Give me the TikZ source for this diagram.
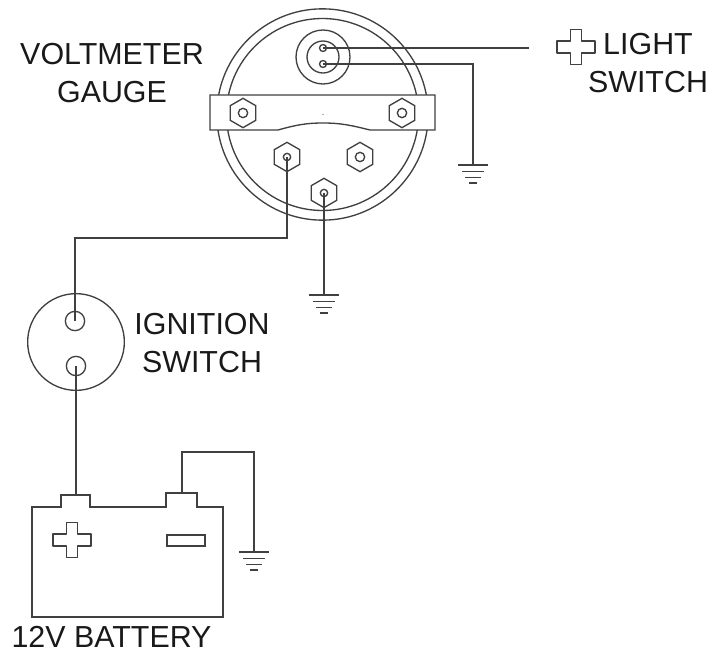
\documentclass[tikz,border=0pt]{standalone}
\usepackage{fontspec}
\setmainfont{Liberation Sans}
\usetikzlibrary{shapes.geometric}

\tikzset{
    wire/.style={line width=1pt, draw=black!75},
    label/.style={font=\fontsize{22.8}{28.5}\selectfont, align=center, inner sep=0pt, text=black!90},
    ring/.style={circle, draw=black!75, line width=1pt, inner sep=0pt},
    nut/.style={regular polygon, regular polygon sides=6, shape border rotate=30, draw=black!75,
        line width=1pt, inner sep=0pt, minimum size=22pt},
    ground/.pic={
        \draw[wire] (-15,0) -- (15,0);
        \draw[wire] (-11,6.5) -- (11,6.5);
        \draw[wire] (-8,12.5) -- (8,12.5);
        \draw[wire] (-4,18) -- (4,18);
    },
    plus/.pic={
        \draw[wire, line join=round] (-5.5,-17.5) -- (5.5,-17.5) -- (5.5,-6) -- (19,-6) -- (19,6) -- (5.5,6)
            -- (5.5,17.5) -- (-5.5,17.5) -- (-5.5,6) -- (-19,6) -- (-19,-6) -- (-5.5,-6) -- cycle;
    }
}

\begin{document}
\begin{tikzpicture}[x=0.75pt, y=-0.75pt]
    \useasboundingbox (0,0) rectangle (713,652);

    % gauge body
    \node[ring, minimum size=158.5pt] (gauge) at (322.5,114.5) {};
    \node[ring, minimum size=144pt] (gaugein) at (322.5,114.5) {};
    \node[ring, minimum size=40.5pt] (lamp) at (323,57) {};
    \node[ring, minimum size=24pt] (lampin) at (323,57) {};
    \node[ring, minimum size=5.2pt] (pin1) at (323,48) {};
    \node[ring, minimum size=5.2pt] (pin2) at (323,64) {};

    % strap over the body
    \draw[wire, fill=white] (210,95) -- (435,95) -- (435,130) -- (370,130)
        .. controls (350,125) and (340,123) .. (323,123)
        .. controls (306,123) and (296,125) .. (278,130) -- (210,130) -- cycle;
    \node[circle, fill=black!35, inner sep=0pt, minimum size=1.2pt] (speck) at (323,114.5) {};

    % nuts
    \foreach \name/\px/\py in {a/243/113, b/402/113, c/287/157, d/360/157, e/324/193} {
        \node[nut] (nut\name) at (\px,\py) {};
    }
    \node[ring, minimum size=7pt] (holea) at (243,113) {};
    \node[ring, minimum size=7pt] (holeb) at (402,113) {};
    \node[ring, minimum size=5.5pt] (holec) at (287,157) {};
    \node[ring, minimum size=7pt] (holed) at (360,157) {};
    \node[ring, minimum size=5.5pt] (holee) at (324,193) {};

    % ignition switch
    \node[ring, minimum size=72.5pt] (ignition) at (76,342) {};
    \node[ring, minimum size=14.5pt] (ign1) at (75,321) {};
    \node[ring, minimum size=14.5pt] (ign2) at (76,366) {};

    % battery
    \draw[wire] (32,507) -- (61,507) -- (61,495) -- (90,495) -- (90,507) -- (166,507) -- (166,493)
        -- (197,493) -- (197,507) -- (223,507) -- (223,617) -- (32,617) -- cycle;
    \coordinate (pos) at (75,495);
    \coordinate (neg) at (182,493);
    \pic at (72,540) {plus};
    \draw[wire] (167,535) rectangle (205,546);

    % grounds
    \coordinate (gnd1) at (473,165);
    \coordinate (gnd2) at (323.5,295);
    \coordinate (gnd3) at (254,552);
    \pic at (gnd1) {ground};
    \pic at (gnd2) {ground};
    \pic at (gnd3) {ground};

    % wires
    \coordinate (lightend) at (529,48);
    \draw[wire] (pin1.center) -- (lightend);
    \draw[wire] (pin2.center) -| (gnd1);
    \draw[wire] (holee.center) -- (holee.center |- gnd2);
    \coordinate (bend1) at (75,238);
    \draw[wire] (holec.center) |- (bend1) -- (ign1.center);
    \draw[wire] (ign2.center) -- (ign2.center |- pos);
    \coordinate (bend2) at (182,452);
    \draw[wire] (neg) -- (bend2) -| (gnd3);

    % labels
    \pic at (576,47) {plus};
    \node[label] (voltlabel) at (112,73) {VOLTMETER\\GAUGE};
    \node[label] (ignlabel) at (202,343) {IGNITION\\SWITCH};
    \node[label] (lightlabel) at (648,63) {LIGHT\\SWITCH};
    \node[label] (batlabel) at (111.5,636.5) {12V BATTERY};
\end{tikzpicture}
\end{document}
